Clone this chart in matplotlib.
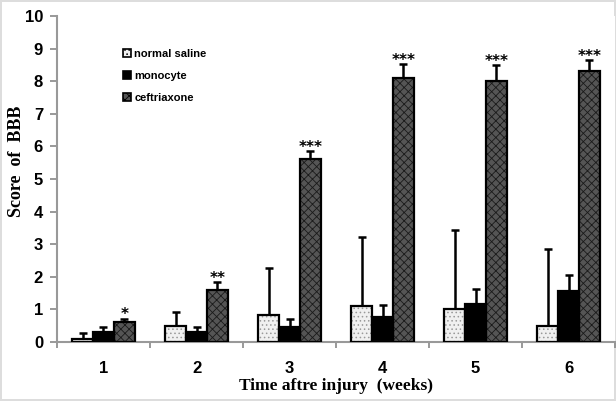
import matplotlib
matplotlib.use("Agg")
import matplotlib.pyplot as plt
from matplotlib.patches import Patch
import numpy as np

# values
weeks = ["1", "2", "3", "4", "5", "6"]
saline = [0.10, 0.50, 0.82, 1.10, 1.00, 0.50]
saline_err = [0.18, 0.43, 1.46, 2.13, 2.43, 2.34]
mono = [0.32, 0.32, 0.45, 0.78, 1.16, 1.58]
mono_err = [0.15, 0.15, 0.27, 0.37, 0.46, 0.47]
ceft = [0.60, 1.60, 5.60, 8.10, 8.02, 8.31]
ceft_err = [0.12, 0.25, 0.25, 0.42, 0.48, 0.33]
stars = ["*", "**", "***", "***", "***", "***"]
labels = ["normal saline", "monocyte", "ceftriaxone"]

plt.rcParams["hatch.linewidth"] = 0.6

fig = plt.figure(figsize=(6.16, 4.01), dpi=100)
fig.patch.set_edgecolor("#dddddd")
fig.patch.set_linewidth(1.5)
ax = fig.add_axes([0.0925, 0.147, 0.906, 0.813])

x = np.arange(1, len(weeks) + 1)
w = 0.225
series = [
    (saline, saline_err, "#f0f0f0", "....", "#999999"),
    (mono, mono_err, "black", None, "black"),
    (ceft, ceft_err, "#555555", "xxxx", "#1a1a1a"),
]
handles = []
for i, (vals, err, fc, hatch, hc) in enumerate(series):
    pos = x + (i - 1) * w
    ax.bar(pos, vals, w, facecolor=fc, edgecolor=hc, hatch=hatch,
           linewidth=0, zorder=2)
    # black outline drawn separately so hatch colour can differ
    ax.bar(pos, vals, w, facecolor="none", edgecolor="black", linewidth=1.6, zorder=3)
    ax.errorbar(pos, vals, yerr=[np.zeros(len(vals)), err], fmt="none",
                ecolor="black", elinewidth=1.8, capsize=3, capthick=1.8, zorder=1)
    handles.append(Patch(facecolor=fc, edgecolor="black", hatch=hatch, linewidth=1.2))

# significance marks above the ceftriaxone bars
for xi, v, e, s in zip(x + w, ceft, ceft_err, stars):
    ax.text(xi, v + e - 0.12, s, ha="center", va="bottom", fontsize=11,
            fontweight="bold", family="DejaVu Sans")

ax.set_xlim(0.5, 6.5)
ax.set_ylim(0, 10)
ax.set_yticks(range(0, 11))
ax.set_xticks(x)
ax.set_xticklabels(weeks)
ax.set_xticks(np.arange(0.5, 7.0, 1.0), minor=True)
ax.tick_params(axis="x", which="major", length=0, pad=14)
ax.tick_params(axis="x", which="minor", length=4, width=1.2, color="#888888")
ax.tick_params(axis="y", length=5, width=1.2, color="#888888", pad=5)
for lab in ax.get_xticklabels() + ax.get_yticklabels():
    lab.set_fontfamily("Liberation Sans")
    lab.set_fontweight("bold")
    lab.set_fontsize(12)

for s in ["top", "right"]:
    ax.spines[s].set_visible(False)
for s in ["left", "bottom"]:
    ax.spines[s].set_color("#999999")
    ax.spines[s].set_linewidth(1.5)

ax.set_ylabel("Score  of  BBB", fontfamily="Liberation Serif", fontweight="bold",
              fontsize=13)
ax.yaxis.set_label_coords(-0.057, 0.555)
ax.set_xlabel("Time aftre injury  (weeks)", fontfamily="Liberation Serif",
              fontweight="bold", fontsize=12.5, labelpad=1)

ax.legend(handles, labels, loc="upper left", bbox_to_anchor=(0.1, 0.93),
          frameon=False, handlelength=0.75, handleheight=0.75,
          handletextpad=0.3, labelspacing=1.1,
          prop={"family": "Liberation Sans", "weight": "bold", "size": 8})

fig.savefig("out.png", dpi=100, facecolor="white", edgecolor=fig.get_edgecolor())
